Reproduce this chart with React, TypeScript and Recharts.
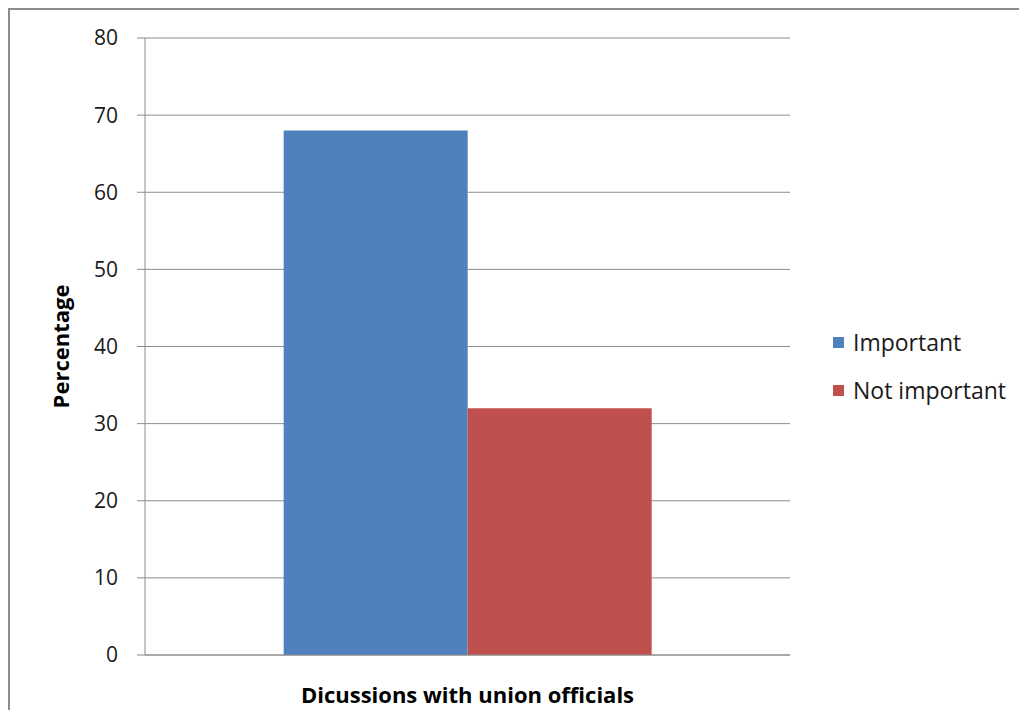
import React from 'react';
import { BarChart, Bar, XAxis, YAxis, CartesianGrid, Legend } from 'recharts';

const categories = ['Dicussions with union officials'];
const important = [68];
const notImportant = [32];
const yTicks = [0, 10, 20, 30, 40, 50, 60, 70, 80];

const series = [
  { key: 'important', label: 'Important', color: '#4F81BD' },
  { key: 'notImportant', label: 'Not important', color: '#C0504D' },
];

const data = categories.map((c, i) => ({
  name: c,
  important: important[i],
  notImportant: notImportant[i],
}));

const FONT = '"Open Sans", sans-serif';
const GRID = '#8c8c8c';

const LegendBox = () => (
  <div style={{ fontFamily: FONT, fontSize: 23, color: '#1a1a1a' }}>
    {series.map((s) => (
      <div key={s.key} style={{ display: 'flex', alignItems: 'center', height: 48 }}>
        <span style={{ width: 11, height: 11, background: s.color, marginRight: 9, display: 'inline-block' }} />
        <span>{s.label}</span>
      </div>
    ))}
  </div>
);

const YLabel = (props: any) => {
  const vb = props.viewBox || {};
  const x = vb.x + 15;
  const y = vb.y + vb.height / 2;
  return (
    <text
      x={x}
      y={y}
      transform={`rotate(-90, ${x}, ${y})`}
      textAnchor="middle"
      dominantBaseline="central"
      fontFamily={FONT}
      fontSize={22}
      fontWeight="bold"
      fill="#000"
    >
      Percentage
    </text>
  );
};

export default function App() {
  return (
    <div style={{ width: 1011, height: 702, overflow: 'hidden' }}>
      <div style={{ borderTop: `2px solid ${GRID}`, borderLeft: `2px solid ${GRID}`, width: 1017, height: 700 }}>
        <BarChart
          width={1017}
          height={700}
          data={data}
          margin={{ top: 28, right: 237, bottom: 0, left: 35 }}
          barCategoryGap="21.5%"
          barGap={0}
        >
          <CartesianGrid horizontal vertical={false} stroke={GRID} strokeWidth={1} />
          <XAxis
            dataKey="name"
            height={55}
            tick={false}
            tickLine={false}
            axisLine={{ stroke: GRID }}
            label={{
              value: categories[0],
              position: 'insideBottom',
              offset: 7,
              style: { fontFamily: FONT, fontSize: 22, fontWeight: 'bold', fill: '#000' },
            }}
          />
          <YAxis
            width={100}
            domain={[0, 80]}
            ticks={yTicks}
            interval={0}
            tickSize={8}
            tickMargin={19}
            axisLine={{ stroke: GRID }}
            tickLine={{ stroke: GRID }}
            tick={{ fontFamily: FONT, fontSize: 21, fill: '#1a1a1a' }}
            label={<YLabel />}
          />
          <Legend
            layout="horizontal"
            align="center"
            verticalAlign="middle"
            content={<LegendBox />}
            wrapperStyle={{ left: 823, top: 308, width: 200 }}
          />
          {series.map((s) => (
            <Bar key={s.key} dataKey={s.key} name={s.label} fill={s.color} isAnimationActive={false} />
          ))}
        </BarChart>
      </div>
    </div>
  );
}
